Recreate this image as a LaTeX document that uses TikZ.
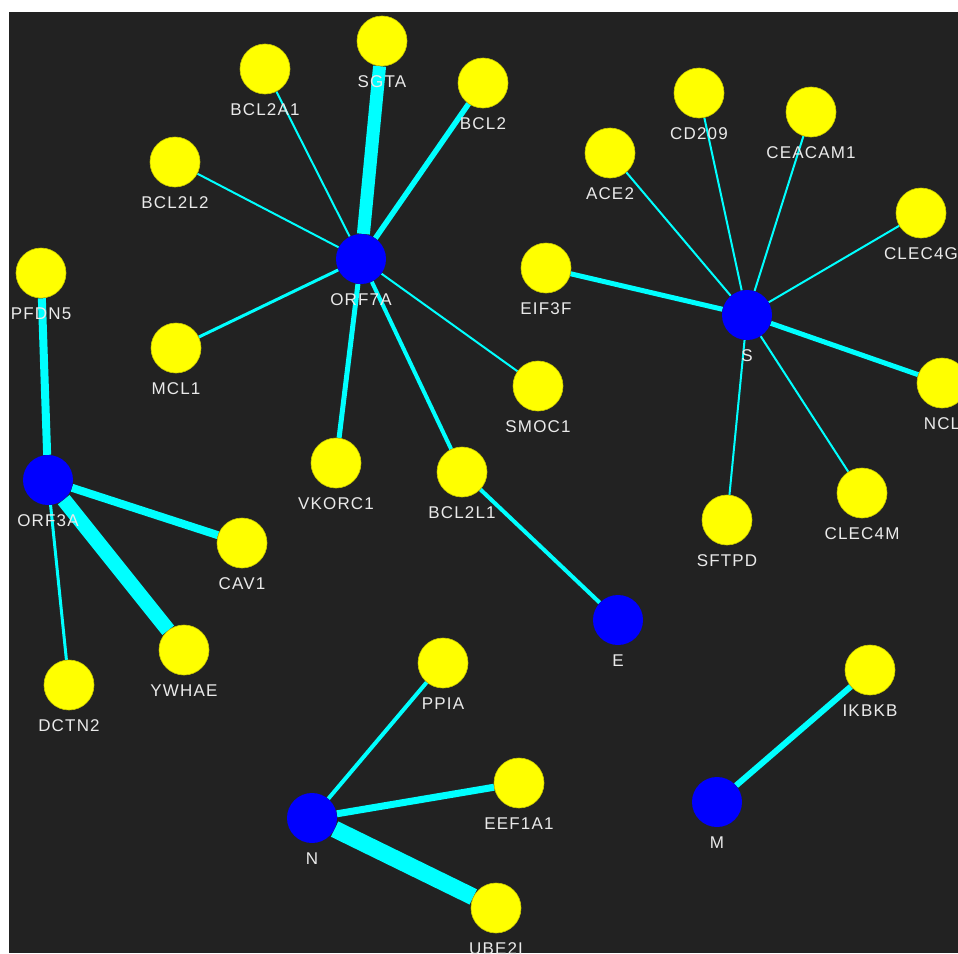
\documentclass[tikz,border=0pt]{standalone}
\usepackage{fontspec}
\setmainfont{Liberation Sans}[LetterSpace=7]
\usetikzlibrary{calc,backgrounds}

\definecolor{canvas}{HTML}{222222}
\definecolor{edgecyan}{HTML}{00FFFF}
\definecolor{protyellow}{HTML}{FFFF00}
\definecolor{virblue}{HTML}{0000FF}
\definecolor{labelgray}{HTML}{EAEAEA}

\tikzset{
  host/.style={circle, fill=protyellow, draw=protyellow!80!black, line width=0.6pt, minimum size=50pt, inner sep=0pt},
  viral/.style={circle, fill=virblue, draw=none, minimum size=50pt, inner sep=0pt},
  genelabel/.style={anchor=base, inner sep=0pt, text=labelgray, font=\fontsize{17pt}{17pt}\selectfont},
  link/.style={draw=edgecyan, line width=#1},
  link/.default=2pt
}

\begin{document}
\begin{tikzpicture}[x=1pt,y=-1pt]
  \useasboundingbox (0,0) rectangle (958,953);

  % viral proteins
  \node[viral] (ORF7A) at (361,259) {};
  \node[viral] (ORF3A) at (48,480) {};
  \node[viral] (S) at (747,315) {};
  \node[viral] (E) at (618,620) {};
  \node[viral] (N) at (312,818) {};
  \node[viral] (M) at (717,802) {};

  % host proteins
  \node[host] (SGTA) at (382,41) {};
  \node[host] (BCL2A1) at (265,69) {};
  \node[host] (BCL2) at (483,83) {};
  \node[host] (BCL2L2) at (175,162) {};
  \node[host] (PFDN5) at (41,273) {};
  \node[host] (MCL1) at (176,348) {};
  \node[host] (SMOC1) at (538,386) {};
  \node[host] (VKORC1) at (336,463) {};
  \node[host] (BCL2L1) at (462,472) {};
  \node[host] (CAV1) at (242,543) {};
  \node[host] (YWHAE) at (184,650) {};
  \node[host] (DCTN2) at (69,685) {};
  \node[host] (PPIA) at (443,663) {};
  \node[host] (EEF1A1) at (519,783) {};
  \node[host] (UBE2I) at (496,908) {};
  \node[host] (IKBKB) at (870,670) {};
  \node[host] (CD209) at (699,93) {};
  \node[host] (CEACAM1) at (811,112) {};
  \node[host] (ACE2) at (610,153) {};
  \node[host] (CLEC4G) at (921,213) {};
  \node[host] (EIF3F) at (546,268) {};
  \node[host] (NCL) at (942,383) {};
  \node[host] (SFTPD) at (727,520) {};
  \node[host] (CLEC4M) at (862,493) {};

  % names under the circles
  \foreach \g in {ORF7A,ORF3A,S,E,N,M,SGTA,BCL2A1,BCL2,BCL2L2,PFDN5,MCL1,SMOC1,VKORC1,BCL2L1,CAV1,YWHAE,DCTN2,PPIA,EEF1A1,UBE2I,IKBKB,CD209,CEACAM1,ACE2,CLEC4G,EIF3F,NCL,SFTPD,CLEC4M}
    \node[genelabel] (\g-lab) at ($(\g)+(0,46)$) {\g};

  % canvas and interactions (line width by score), behind the circles
  \begin{pgfonlayer}{background}
    \fill[white] (0,0) rectangle (958,953);
    \fill[canvas] (9,12) rectangle (958,953);
    \clip (9,12) rectangle (958,953);
    \path
      (ORF7A) edge[link=13pt] (SGTA)
      (ORF7A) edge[link=2pt] (BCL2A1)
      (ORF7A) edge[link=5.5pt] (BCL2)
      (ORF7A) edge[link=2pt] (BCL2L2)
      (ORF7A) edge[link=3pt] (MCL1)
      (ORF7A) edge[link=2pt] (SMOC1)
      (ORF7A) edge[link=5pt] (VKORC1)
      (ORF7A) edge[link=4pt] (BCL2L1)
      (E) edge[link=4pt] (BCL2L1)
      (ORF3A) edge[link=8pt] (PFDN5)
      (ORF3A) edge[link=8pt] (CAV1)
      (ORF3A) edge[link=15pt] (YWHAE)
      (ORF3A) edge[link=3pt] (DCTN2)
      (N) edge[link=4pt] (PPIA)
      (N) edge[link=7pt] (EEF1A1)
      (N) edge[link=17pt] (UBE2I)
      (M) edge[link=6pt] (IKBKB)
      (S) edge[link=2pt] (ACE2)
      (S) edge[link=2pt] (CD209)
      (S) edge[link=2pt] (CEACAM1)
      (S) edge[link=2pt] (CLEC4G)
      (S) edge[link=5pt] (EIF3F)
      (S) edge[link=5pt] (NCL)
      (S) edge[link=2pt] (CLEC4M)
      (S) edge[link=2pt] (SFTPD);
  \end{pgfonlayer}
\end{tikzpicture}
\end{document}
